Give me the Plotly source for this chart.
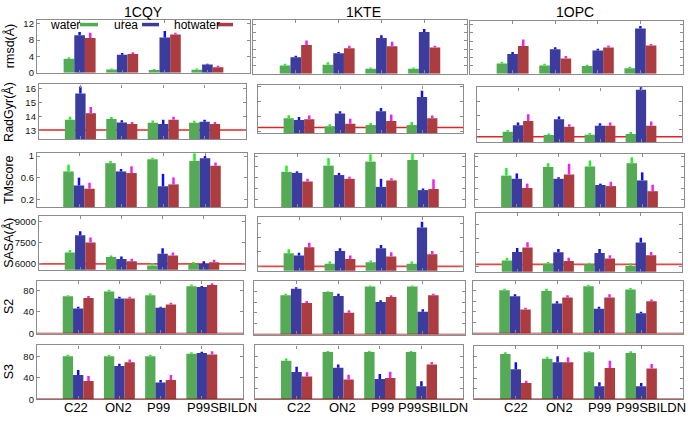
import plotly.graph_objects as go

W, H = 688, 421

proteins = ["1CQY", "1KTE", "1OPC"]
models = ["C22", "ON2", "P99", "P99SBILDN"]
solvents = ["water", "urea", "hotwater"]
metric_titles = ["rmsd(Å)", "RadGyr(Å)", "TMscore", "SASA(Å)", "S2", "S3"]

# each list: [water, urea, hotwater] x [C22, ON2, P99, P99SBILDN]; *_top = top of error bar
rmsd_1CQY = [[3.4, 0.8, 0.65, 0.7], [9.2, 4.4, 8.6, 2.0], [8.5, 4.6, 9.35, 1.3]]
rmsd_1CQY_top = [[3.8, 1.0, 0.9, 1.0], [10.0, 4.8, 10.2, 2.2], [9.8, 5.0, 9.8, 1.7]]
rmsd_1KTE = [[2.0, 2.2, 1.2, 1.2], [4.0, 5.0, 8.7, 10.2], [7.0, 6.2, 6.7, 6.4]]
rmsd_1KTE_top = [[2.4, 2.8, 1.5, 1.5], [4.4, 5.3, 9.4, 10.9], [8.1, 6.8, 7.8, 6.8]]
rmsd_1OPC = [[2.5, 2.0, 1.9, 1.3], [4.8, 6.0, 5.7, 11.1], [6.8, 3.7, 6.4, 6.9]]
rmsd_1OPC_top = [[2.9, 2.4, 2.2, 1.7], [5.3, 6.5, 6.1, 11.7], [8.4, 4.3, 6.9, 7.3]]

rg_1CQY = [[13.78, 13.83, 13.57, 13.57], [15.66, 13.59, 13.48, 13.64], [14.25, 13.48, 13.78, 13.48]]
rg_1CQY_top = [[13.99, 13.98, 13.72, 13.70], [16.17, 13.75, 13.78, 13.78], [14.70, 13.62, 13.99, 13.62]]
rg_1KTE = [[13.88, 13.35, 13.44, 13.44], [13.77, 14.20, 14.35, 15.29], [13.81, 13.52, 13.70, 13.88]]
rg_1KTE_top = [[14.09, 13.48, 13.57, 13.63], [13.96, 14.35, 14.57, 15.71], [14.07, 13.85, 14.14, 14.07]]
rg_1OPC = [[12.81, 12.57, 12.60, 12.64], [13.29, 13.72, 13.24, 15.88], [13.60, 13.17, 13.24, 13.24]]
rg_1OPC_top = [[12.93, 12.69, 12.72, 12.79], [13.48, 13.92, 13.44, 16.12], [14.08, 13.36, 13.48, 13.55]]

tm_1CQY = [[0.715, 0.868, 0.94, 0.91], [0.455, 0.715, 0.44, 0.96], [0.395, 0.685, 0.475, 0.82]]
tm_1CQY_top = [[0.84, 0.91, 0.97, 1.05], [0.60, 0.76, 0.67, 1.0], [0.505, 0.81, 0.605, 0.88]]
tm_1KTE = [[0.71, 0.825, 0.90, 0.93], [0.69, 0.65, 0.43, 0.37], [0.53, 0.58, 0.55, 0.39]]
tm_1KTE_top = [[0.825, 0.965, 1.035, 1.04], [0.72, 0.69, 0.58, 0.40], [0.58, 0.62, 0.59, 0.57]]
tm_1OPC = [[0.64, 0.80, 0.81, 0.87], [0.58, 0.58, 0.465, 0.55], [0.41, 0.66, 0.445, 0.35]]
tm_1OPC_top = [[0.78, 0.87, 0.92, 0.98], [0.68, 0.61, 0.49, 0.70], [0.49, 0.86, 0.525, 0.47]]

sasa_1CQY = [[6795, 6467, 5860, 5979], [8024, 6328, 6698, 5979], [7514, 6165, 6583, 6095]]
sasa_1CQY_top = [[6977, 6583, 6046, 6118], [8303, 6514, 7096, 6165], [7863, 6351, 6793, 6281]]
sasa_1KTE = [[6905, 6159, 6277, 6159], [6745, 7066, 7254, 8720], [7324, 6508, 6675, 6836]]
sasa_1KTE_top = [[7185, 6320, 6393, 6320], [6950, 7250, 7485, 9120], [7652, 6740, 6975, 7066]]
sasa_1OPC = [[6431, 6200, 6151, 6039], [7040, 7019, 6970, 7719], [7369, 6389, 6571, 6809]]
sasa_1OPC_top = [[6620, 6316, 6270, 6225], [7320, 7250, 7250, 8069], [7740, 6620, 6800, 7040]]

s2_1CQY = [[69, 78, 71, 87.8], [46.5, 64.7, 47.8, 86], [66, 64.7, 53.8, 90]]
s2_1CQY_top = [[71, 81, 74, 91], [49.8, 68, 49.8, 88], [69.6, 68, 57, 93]]
s2_1KTE = [[72.7, 78.7, 89, 89], [84.8, 71.5, 60.5, 42.4], [58.7, 40.5, 69.6, 72.7]]
s2_1KTE_top = [[75.8, 80.5, 91, 91], [87.8, 75.8, 63.5, 47], [62, 45, 72.7, 75.8]]
s2_1OPC = [[80, 78.7, 87.8, 81.8], [69, 55.7, 46, 37.5], [44.8, 66.6, 66.6, 60]]
s2_1OPC_top = [[83, 83, 90.3, 84.3], [72.7, 60, 49.8, 40.6], [47.8, 70.9, 72.7, 63]]

s3_1CQY = [[80.6, 80.6, 80.6, 85.5], [45.6, 62.2, 31.4, 86.8], [34.5, 69.6, 36.3, 83.7]]
s3_1CQY_top = [[83.5, 83.5, 83.5, 88], [54.8, 66.5, 36.3, 89.2], [43.7, 74.5, 45.6, 89.8]]
s3_1KTE = [[72, 88.6, 88.6, 88.6], [51.1, 59, 38.1, 24.6], [42.5, 36.9, 40, 65.2]]
s3_1KTE_top = [[76.3, 90.5, 90.5, 90.5], [61, 65.2, 47.4, 33.8], [50.5, 46.2, 51.7, 70.1]]
s3_1OPC = [[85.5, 76.3, 88.6, 87.4], [56.6, 70, 24.6, 24.6], [30.8, 70, 59, 57.9]]
s3_1OPC_top = [[88.6, 80, 90.5, 90.5], [70, 81, 32, 30.8], [35.1, 79, 72.6, 66.5]]

rg_reference = [13.05, 13.26, 12.45]
sasa_reference = [5980, 5977, 6151]

# tick labels on the first column
tick_vals = [[0, 4, 8, 12], [13, 14, 15, 16], [0.2, 0.6, 1], [6000, 7500, 9000], [0, 40, 80], [0, 40, 80]]
tick_text = [["0", "4", "8", "12"], ["13", "14", "15", "16"], ["0.2", "0.6", "1"],
             ["6000", "7500", "9000"], ["0", "40", "80"], ["0", "40", "80"]]
minor_dtick = [2, 1, 0.2, 1000, 20, 20]

values = [[rmsd_1CQY, rmsd_1KTE, rmsd_1OPC], [rg_1CQY, rg_1KTE, rg_1OPC], [tm_1CQY, tm_1KTE, tm_1OPC],
          [sasa_1CQY, sasa_1KTE, sasa_1OPC], [s2_1CQY, s2_1KTE, s2_1OPC], [s3_1CQY, s3_1KTE, s3_1OPC]]
tops = [[rmsd_1CQY_top, rmsd_1KTE_top, rmsd_1OPC_top], [rg_1CQY_top, rg_1KTE_top, rg_1OPC_top],
        [tm_1CQY_top, tm_1KTE_top, tm_1OPC_top], [sasa_1CQY_top, sasa_1KTE_top, sasa_1OPC_top],
        [s2_1CQY_top, s2_1KTE_top, s2_1OPC_top], [s3_1CQY_top, s3_1KTE_top, s3_1OPC_top]]

# ---- layout (pixel boxes, per row, per column) ----
panel_x = [
    [(37, 250), (253, 467), (470, 683)],
    [(39, 246), (258, 463), (477, 682)],
    [(37, 247), (255, 465), (475, 684)],
    [(39, 245), (258, 463), (476, 682)],
    [(37, 243), (254, 465), (473, 683)],
    [(37, 243), (255, 463), (474, 683)],
]
panel_y = [
    [(17, 71), (17, 72), (18, 72)],
    [(83, 139), (84, 133), (86, 142)],
    [(153, 208), (154, 208), (154, 208)],
    [(217, 272), (218, 273), (214, 274)],
    [(283, 337), (283, 338), (283, 337)],
    [(349, 404), (349, 404), (350, 404)],
]
y_ranges = [
    [(0, 13), (0, 13.2), (0, 13)],
    [(12.37, 16.32), (12.87, 16.07), (12.04, 16.05)],
    [(0.055, 1.055), (0.055, 1.04), (0.055, 1.04)],
    [(5560, 9400), (5670, 9467), (5619, 9840)],
    [(0, 98), (0, 100), (0, 98)],
    [(0, 101), (0, 101), (0, 99.7)],
]
# x-label shifts (category units) for the first three and the last model label, per column
label_shift = [-0.39, -0.27, -0.33]
label_shift_last = [-0.42, -0.6, -0.65]

bar_colors = ["#55ab55", "#3c3c9f", "#ab3d41"]
err_colors = ["#22ee22", "#1010ee", "#ee22ee"]
FONT = "Liberation Sans, Arial, sans-serif"
frame = "#8c8c8c"

fig = go.Figure()
layout = {}
shapes = []
annotations = []
xpos = list(range(1, len(models) + 1))

k = 0
for r in range(6):
    for c in range(3):
        k += 1
        xa = "x" if k == 1 else f"x{k}"
        ya = "y" if k == 1 else f"y{k}"
        for s in range(3):
            v = values[r][c][s]
            t = tops[r][c][s]
            fig.add_trace(go.Bar(
                x=xpos, y=v, xaxis=xa, yaxis=ya, name=solvents[s], offsetgroup=str(s),
                marker=dict(color=bar_colors[s], line=dict(width=0)),
                error_y=dict(type="data", symmetric=False, array=[a - b for a, b in zip(t, v)],
                             arrayminus=[0] * len(v), color=err_colors[s], thickness=2.5, width=0),
                showlegend=False, hoverinfo="skip"))
        x0, x1 = panel_x[r][c]
        y0, y1 = panel_y[r][c]
        lo, hi = y_ranges[r][c]
        layout["xaxis" if k == 1 else f"xaxis{k}"] = dict(
            domain=[x0 / W, x1 / W], range=[0, 5], anchor=ya, tickvals=xpos, showticklabels=False,
            ticks="inside", ticklen=3, tickcolor=frame, showline=True, linecolor=frame, linewidth=1.3,
            mirror="ticks", showgrid=False, zeroline=False, fixedrange=True)
        yax = dict(domain=[1 - y1 / H, 1 - y0 / H], range=[lo, hi], anchor=xa,
                   ticks="inside", ticklen=3, tickcolor=frame, showline=True, linecolor=frame,
                   linewidth=1.3, mirror="ticks", showgrid=False, zeroline=False, fixedrange=True,
                   tickfont=dict(size=9.5, color="#111", family=FONT))
        if c == 0:
            yax.update(tickvals=tick_vals[r], ticktext=tick_text[r], showticklabels=True)
        else:
            yax.update(tick0=0, dtick=minor_dtick[r], showticklabels=False)
        layout["yaxis" if k == 1 else f"yaxis{k}"] = yax

        if r == 1:
            shapes.append(dict(type="line", xref=xa, yref=ya, x0=0, x1=5, y0=rg_reference[c],
                               y1=rg_reference[c], line=dict(color="#e02424", width=1.5), layer="below"))
        if r == 3:
            shapes.append(dict(type="line", xref=xa, yref=ya, x0=0, x1=5, y0=sasa_reference[c],
                               y1=sasa_reference[c], line=dict(color="#e04a4a", width=1.8), layer="below"))
        if r >= 4:
            shapes.append(dict(type="line", xref=xa, yref=ya, x0=0, x1=5, y0=lo, y1=lo,
                               line=dict(color="#9a1a1a", width=1.5)))
        if r == 5:
            for i, m in enumerate(models):
                shift = label_shift_last[c] if i == len(models) - 1 else label_shift[c]
                annotations.append(dict(text=m, xref=xa, yref="paper", x=xpos[i] + shift,
                                        xanchor="left", y=1 - 412 / H, yanchor="middle",
                                        showarrow=False, font=dict(size=13, color="#000", family=FONT)))
        if r == 0:
            annotations.append(dict(text=proteins[c], xref="paper", yref="paper",
                                    x=((x0 + x1) / 2 + [0, 3, -2][c]) / W, y=1 - 9 / H,
                                    xanchor="center", yanchor="middle", showarrow=False,
                                    font=dict(size=14, color="#000", family=FONT)))
    y0, y1 = panel_y[r][0]
    annotations.append(dict(text=metric_titles[r], xref="paper", yref="paper", x=9 / W,
                            y=1 - (y0 + y1) / 2 / H, xanchor="center", yanchor="middle",
                            textangle=-90, showarrow=False, font=dict(size=12.5, color="#000", family=FONT)))

# in-panel legend (text followed by a short coloured line)
legend_text_x = [48, 112, 172]
legend_line_x = [(80, 98), (142, 159), (217, 233)]
for s in range(3):
    annotations.append(dict(text=solvents[s], xref="paper", yref="paper", x=legend_text_x[s] / W,
                            y=1 - 22 / H, xanchor="left", yanchor="middle", showarrow=False,
                            font=dict(size=12, color="#000", family=FONT)))
    shapes.append(dict(type="line", xref="paper", yref="paper", x0=legend_line_x[s][0] / W,
                       x1=legend_line_x[s][1] / W, y0=1 - 22 / H, y1=1 - 22 / H,
                       line=dict(color=bar_colors[s], width=3.5)))

fig.update_layout(
    width=W, height=H, margin=dict(l=0, r=0, t=0, b=0), paper_bgcolor="white", plot_bgcolor="white",
    barmode="group", bargap=0.25, bargroupgap=0, showlegend=False, shapes=shapes,
    annotations=annotations, font=dict(family=FONT), **layout)

fig.write_html("out.html", config={"displayModeBar": False},
               post_script="document.body.style.margin='0px'; document.body.style.overflow='hidden';")
